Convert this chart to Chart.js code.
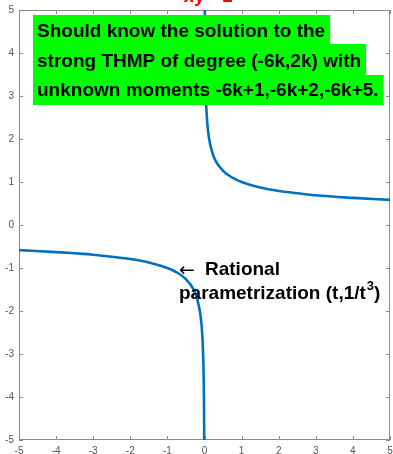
<!DOCTYPE html>
<html>
<head>
<meta charset="utf-8">
<script src="https://cdn.jsdelivr.net/npm/chart.js@4.4.1/dist/chart.umd.min.js"></script>
<style>
  html, body { margin: 0; padding: 0; background: #fff; }
  #wrap { position: relative; width: 393px; height: 454px; }
</style>
</head>
<body>
<div id="wrap"><canvas id="grafica" width="393" height="454"></canvas></div>
<script>
// Rama positiva de la curva
const posX = [0.008, 0.01, 0.015, 0.02, 0.03, 0.05, 0.08, 0.12, 0.2, 0.3, 0.5, 0.75, 1, 1.5, 2, 2.5, 3, 4, 5];
const posY = [5.0, 4.64, 4.05, 3.68, 3.22, 2.71, 2.32, 2.03, 1.71, 1.49, 1.26, 1.10, 1.0, 0.87, 0.79, 0.74, 0.69, 0.63, 0.585];
// Rama negativa
const negX = [-5, -4, -3, -2.5, -2, -1.5, -1, -0.75, -0.5, -0.3, -0.2, -0.12, -0.08, -0.05, -0.03, -0.02, -0.015, -0.01, -0.008];
const negY = [-0.585, -0.63, -0.69, -0.74, -0.79, -0.87, -1.0, -1.10, -1.26, -1.49, -1.71, -2.03, -2.32, -2.71, -3.22, -3.68, -4.05, -4.64, -5.0];

const xTicks = [-5, -4, -3, -2, -1, 0, 1, 2, 3, 4, 5];
const yTicks = [-5, -4, -3, -2, -1, 0, 1, 2, 3, 4, 5];

const titulo = 'xy\u00B3=1';
const notaLineas = [
  'Should know the solution to the',
  'strong THMP of degree (-6k,2k) with',
  'unknown moments -6k+1,-6k+2,-6k+5.'
];
const etiqueta1 = 'Rational';
const etiqueta2 = 'parametrization (t,1/t';

const AXIS = '#8a8a8a';
const BOLD = 'bold 19px "Liberation Sans", Arial, sans-serif';

function puntos(xs, ys) {
  return xs.map((x, i) => ({ x: x, y: ys[i] }));
}

// Caja estilo MATLAB con marcas hacia dentro
const cajaPlugin = {
  id: 'caja',
  beforeDatasetsDraw(chart) {
    const { ctx, chartArea: a, scales } = chart;
    ctx.save();
    ctx.strokeStyle = AXIS;
    ctx.lineWidth = 1;
    ctx.strokeRect(a.left + 0.5, a.top + 0.5, a.right - a.left - 1, a.bottom - a.top - 1);
    ctx.beginPath();
    xTicks.forEach(v => {
      const px = Math.round(scales.x.getPixelForValue(v)) + 0.5;
      ctx.moveTo(px, a.bottom); ctx.lineTo(px, a.bottom - 4);
      ctx.moveTo(px, a.top); ctx.lineTo(px, a.top + 4);
    });
    yTicks.forEach(v => {
      const py = Math.round(scales.y.getPixelForValue(v)) + 0.5;
      ctx.moveTo(a.left, py); ctx.lineTo(a.left + 4, py);
      ctx.moveTo(a.right, py); ctx.lineTo(a.right - 4, py);
    });
    ctx.stroke();
    ctx.restore();
  },
  afterDraw(chart) {
    const { ctx } = chart;
    ctx.save();
    // Título rojo (cortado arriba)
    ctx.font = BOLD;
    ctx.fillStyle = '#ff0000';
    ctx.textAlign = 'center';
    ctx.textBaseline = 'alphabetic';
    ctx.fillText(titulo, 208, 2);

    // Cuadro verde con el texto
    ctx.textAlign = 'left';
    const tops = [15, 44, 75];
    const bots = [44, 75, 105];
    const bases = [37, 67, 96];
    notaLineas.forEach((t, i) => {
      const w = ctx.measureText(t).width;
      ctx.fillStyle = '#00ff00';
      ctx.fillRect(33, tops[i], w + 9, bots[i] - tops[i]);
    });
    ctx.fillStyle = '#000';
    notaLineas.forEach((t, i) => ctx.fillText(t, 37, bases[i]));

    // Flecha y etiqueta
    ctx.font = '19px "DejaVu Sans", sans-serif';
    ctx.fillText('\u2190', 179, 276);
    ctx.font = BOLD;
    ctx.fillText(etiqueta1, 205, 275);
    ctx.fillText(etiqueta2, 179, 299);
    let x = 179 + ctx.measureText(etiqueta2).width;
    ctx.font = 'bold 13px "Liberation Sans", Arial, sans-serif';
    ctx.fillText('3', x + 1, 290);
    x += ctx.measureText('3').width + 1;
    ctx.font = BOLD;
    ctx.fillText(')', x, 299);
    ctx.restore();
  }
};

const fuenteTicks = { family: '"Liberation Sans", Arial, sans-serif', size: 10 };

new Chart(document.getElementById('grafica').getContext('2d'), {
  type: 'scatter',
  data: {
    datasets: [
      { data: puntos(posX, posY), showLine: true, borderColor: '#0072BD', borderWidth: 2.6,
        pointRadius: 0, cubicInterpolationMode: 'monotone' },
      { data: puntos(negX, negY), showLine: true, borderColor: '#0072BD', borderWidth: 2.6,
        pointRadius: 0, cubicInterpolationMode: 'monotone' }
    ]
  },
  options: {
    responsive: false,
    animation: false,
    layout: { padding: { top: 10, right: 3, left: 0, bottom: 0 } },
    plugins: { legend: { display: false }, tooltip: { enabled: false } },
    scales: {
      x: {
        type: 'linear', min: -5, max: 5,
        afterBuildTicks: s => { s.ticks = xTicks.map(v => ({ value: v })); },
        afterFit: s => { s.height = 14; s.paddingLeft = 0; s.paddingRight = 0; },
        grid: { display: false, drawTicks: false },
        border: { display: false },
        ticks: { color: '#555', font: fuenteTicks, padding: 5, maxRotation: 0, autoSkip: false }
      },
      y: {
        type: 'linear', min: -5, max: 5,
        afterBuildTicks: s => { s.ticks = yTicks.map(v => ({ value: v })); },
        afterFit: s => { s.width = 19; s.paddingTop = 0; s.paddingBottom = 0; },
        grid: { display: false, drawTicks: false },
        border: { display: false },
        ticks: { color: '#555', font: fuenteTicks, padding: 5, autoSkip: false }
      }
    }
  },
  plugins: [cajaPlugin]
});
</script>
</body>
</html>
